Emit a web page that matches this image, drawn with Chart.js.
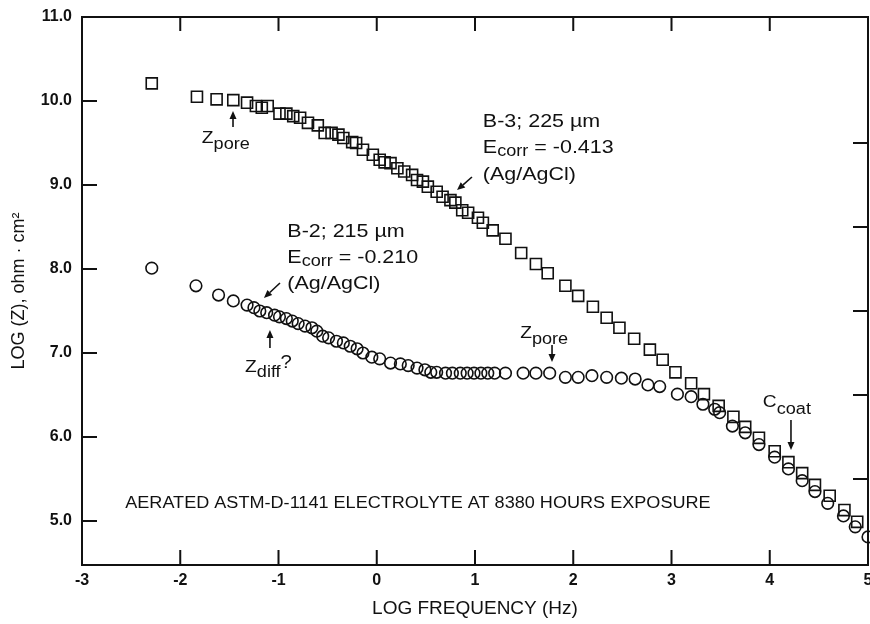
<!DOCTYPE html>
<html>
<head>
<meta charset="utf-8">
<script src="https://cdn.jsdelivr.net/npm/chart.js@4/dist/chart.umd.min.js"></script>
<style>
  html, body { margin: 0; padding: 0; background: #fff; }
  canvas { display: block; }
</style>
</head>
<body>
<canvas id="impedance-chart" width="870" height="624"></canvas>
<script>
// B-3 (225 µm) - squares
const logFreqB3 = [-2.29, -1.83, -1.63, -1.46, -1.32, -1.23, -1.17, -1.11, -0.99, -0.92, -0.85, -0.78, -0.70, -0.60, -0.53, -0.46, -0.39, -0.34, -0.25, -0.21, -0.14, -0.04, 0.03, 0.08, 0.14, 0.21, 0.28, 0.36, 0.41, 0.47, 0.52, 0.61, 0.67, 0.75, 0.80, 0.87, 0.93, 1.03, 1.08, 1.18, 1.31, 1.47, 1.62, 1.74, 1.92, 2.05, 2.20, 2.34, 2.47, 2.62, 2.78, 2.91, 3.04, 3.20, 3.33, 3.48, 3.63, 3.75, 3.89, 4.05, 4.19, 4.33, 4.46, 4.61, 4.76, 4.89];
const logZB3 = [10.21, 10.05, 10.02, 10.01, 9.98, 9.94, 9.92, 9.94, 9.85, 9.85, 9.82, 9.80, 9.74, 9.71, 9.62, 9.62, 9.60, 9.56, 9.51, 9.50, 9.42, 9.36, 9.30, 9.27, 9.26, 9.20, 9.16, 9.12, 9.06, 9.04, 8.98, 8.92, 8.86, 8.82, 8.79, 8.70, 8.67, 8.61, 8.55, 8.46, 8.36, 8.19, 8.06, 7.95, 7.80, 7.68, 7.55, 7.42, 7.30, 7.17, 7.04, 6.92, 6.77, 6.64, 6.51, 6.37, 6.24, 6.12, 5.99, 5.83, 5.70, 5.57, 5.43, 5.30, 5.13, 4.99];

// B-2 (215 µm) - circles
const logFreqB2 = [-2.29, -1.84, -1.61, -1.46, -1.32, -1.25, -1.19, -1.12, -1.04, -0.99, -0.92, -0.86, -0.80, -0.73, -0.66, -0.61, -0.55, -0.49, -0.41, -0.34, -0.27, -0.20, -0.14, -0.05, 0.03, 0.14, 0.24, 0.32, 0.41, 0.49, 0.55, 0.61, 0.70, 0.77, 0.85, 0.92, 0.99, 1.06, 1.13, 1.20, 1.31, 1.49, 1.62, 1.76, 1.92, 2.05, 2.19, 2.34, 2.49, 2.63, 2.76, 2.88, 3.06, 3.20, 3.32, 3.44, 3.49, 3.62, 3.75, 3.89, 4.05, 4.19, 4.33, 4.46, 4.59, 4.75, 4.87, 5.00];
const logZB2 = [8.01, 7.80, 7.69, 7.62, 7.57, 7.54, 7.50, 7.48, 7.45, 7.43, 7.41, 7.38, 7.35, 7.32, 7.30, 7.26, 7.20, 7.18, 7.14, 7.12, 7.08, 7.05, 7.00, 6.95, 6.93, 6.88, 6.87, 6.85, 6.82, 6.80, 6.77, 6.77, 6.76, 6.76, 6.76, 6.76, 6.76, 6.76, 6.76, 6.76, 6.76, 6.76, 6.76, 6.76, 6.71, 6.71, 6.73, 6.71, 6.70, 6.69, 6.62, 6.60, 6.51, 6.48, 6.39, 6.33, 6.29, 6.13, 6.05, 5.91, 5.76, 5.62, 5.48, 5.35, 5.21, 5.06, 4.93, 4.81];

// axis ticks
const xTickValues = [-3, -2, -1, 0, 1, 2, 3, 4, 5];
const yTickValues = [5, 6, 7, 8, 9, 10, 11];
const xInnerTicks = [-2, -1, 0, 1, 2, 3, 4];
const yInnerTicks = [5, 6, 7, 8, 9, 10];
const rightInnerTicks = [5.5, 6.5, 7.5, 8.5, 9.5];

// annotations, in data units: [logFreq, logZ, [[text, fontPx, dy], ...]]
const noteLabels = [
  [-1.78, 9.50, [['Z', 17, 0], ['pore', 16, 6]]],
  [1.08, 9.69, [['B-3; 225 µm', 19, 0]]],
  [1.08, 9.38, [['E', 19, 0], ['corr', 16, 3], [' = -0.413', 19, 0]]],
  [1.08, 9.06, [['(Ag/AgCl)', 19, 0]]],
  [-0.91, 8.38, [['B-2; 215 µm', 19, 0]]],
  [-0.91, 8.07, [['E', 19, 0], ['corr', 16, 3], [' = -0.210', 19, 0]]],
  [-0.91, 7.76, [['(Ag/AgCl)', 19, 0]]],
  [-1.34, 6.77, [['Z', 17, 0], ['diff', 16, 5], ['?', 18, -4]]],
  [1.46, 7.18, [['Z', 17, 0], ['pore', 16, 6]]],
  [3.93, 6.36, [['C', 17, 0], ['coat', 16, 7]]],
  [-2.56, 5.155, [['AERATED ASTM-D-1141 ELECTROLYTE AT 8380 HOURS EXPOSURE', 16, 0]]],
];
// arrows: tail -> head
const noteArrows = [
  [-1.463, 9.69, -1.463, 9.88],
  [0.969, 9.095, 0.817, 8.94],
  [-0.985, 7.833, -1.148, 7.655],
  [-1.087, 7.06, -1.087, 7.274],
  [1.784, 7.095, 1.784, 6.893],
  [4.216, 6.202, 4.216, 5.845],
];

const INK = '#111';
const FONT = '"Liberation Sans", Arial, Helvetica, sans-serif';

// frame + inward tick marks
const frameTicks = {
  id: 'frameTicks',
  afterDraw(chart) {
    const { ctx, chartArea: a, scales: { x, y } } = chart;
    ctx.save();
    ctx.strokeStyle = INK;
    ctx.lineWidth = 2;
    ctx.strokeRect(a.left, a.top, a.right - a.left, a.bottom - a.top);
    ctx.beginPath();
    xInnerTicks.forEach((v) => {
      const px = x.getPixelForValue(v);
      ctx.moveTo(px, a.bottom);
      ctx.lineTo(px, a.bottom - 15);
      ctx.moveTo(px, a.top);
      ctx.lineTo(px, a.top + 14);
    });
    yInnerTicks.forEach((v) => {
      const py = y.getPixelForValue(v);
      ctx.moveTo(a.left, py);
      ctx.lineTo(a.left + 15, py);
    });
    rightInnerTicks.forEach((v) => {
      const py = y.getPixelForValue(v);
      ctx.moveTo(a.right, py);
      ctx.lineTo(a.right - 15, py);
    });
    ctx.stroke();
    ctx.restore();
  },
};

// text notes and arrows
const notes = {
  id: 'notes',
  afterDraw(chart) {
    const { ctx, scales: { x, y } } = chart;
    ctx.save();
    ctx.fillStyle = INK;
    ctx.strokeStyle = INK;
    ctx.textBaseline = 'alphabetic';
    ctx.textAlign = 'left';

    noteLabels.forEach(([fx, fy, parts]) => {
      ctx.save();
      ctx.translate(x.getPixelForValue(fx), y.getPixelForValue(fy));
      ctx.scale(1.13, 1);
      let cx = 0;
      parts.forEach(([t, size, dy]) => {
        ctx.font = `${size}px ${FONT}`;
        ctx.fillText(t, cx, dy);
        cx += ctx.measureText(t).width;
      });
      ctx.restore();
    });

    ctx.lineWidth = 1.6;
    noteArrows.forEach(([x1, y1, x2, y2]) => {
      const ax = x.getPixelForValue(x1), ay = y.getPixelForValue(y1);
      const bx = x.getPixelForValue(x2), by = y.getPixelForValue(y2);
      const ang = Math.atan2(by - ay, bx - ax);
      const len = 8, half = 3.5;
      const baseX = bx - len * Math.cos(ang), baseY = by - len * Math.sin(ang);
      ctx.beginPath();
      ctx.moveTo(ax, ay);
      ctx.lineTo(baseX, baseY);
      ctx.stroke();
      ctx.beginPath();
      ctx.moveTo(bx, by);
      ctx.lineTo(baseX + half * Math.sin(ang), baseY - half * Math.cos(ang));
      ctx.lineTo(baseX - half * Math.sin(ang), baseY + half * Math.cos(ang));
      ctx.closePath();
      ctx.fill();
    });
    ctx.restore();
  },
};

new Chart(document.getElementById('impedance-chart'), {
  type: 'scatter',
  data: {
    datasets: [
      {
        label: 'B-3; 225 µm',
        data: logFreqB3.map((f, i) => ({ x: f, y: logZB3[i] })),
        pointStyle: 'rect',
        pointRadius: 7.8,
        borderColor: INK,
        backgroundColor: 'rgba(0,0,0,0)',
        borderWidth: 1.6,
        clip: false,
      },
      {
        label: 'B-2; 215 µm',
        data: logFreqB2.map((f, i) => ({ x: f, y: logZB2[i] })),
        pointStyle: 'circle',
        pointRadius: 5.8,
        borderColor: INK,
        backgroundColor: 'rgba(0,0,0,0)',
        borderWidth: 1.6,
        clip: false,
      },
    ],
  },
  options: {
    responsive: false,
    animation: false,
    events: [],
    layout: {
      autoPadding: false,
      padding: { top: 17, right: 2, left: 0, bottom: 0 },
    },
    plugins: {
      legend: { display: false },
      tooltip: { enabled: false },
    },
    scales: {
      x: {
        type: 'linear',
        min: -3,
        max: 5,
        afterBuildTicks: (scale) => {
          scale.ticks = xTickValues.map((v) => ({ value: v }));
        },
        afterFit: (scale) => {
          scale.height = 59;
          scale.paddingLeft = 0;
          scale.paddingRight = 0;
        },
        grid: { display: false, drawTicks: false },
        border: { display: false },
        ticks: {
          color: INK,
          padding: 6,
          maxRotation: 0,
          font: { family: FONT, size: 16, weight: 'bold' },
          callback: (v) => String(v),
        },
        title: {
          display: true,
          text: 'LOG FREQUENCY (Hz)',
          color: INK,
          font: { family: FONT, size: 19 },
          padding: { top: 0, bottom: 4 },
        },
      },
      y: {
        type: 'linear',
        min: 4.476,
        max: 11,
        afterBuildTicks: (scale) => {
          scale.ticks = yTickValues.map((v) => ({ value: v }));
        },
        afterFit: (scale) => {
          scale.width = 82;
          scale.paddingTop = 0;
          scale.paddingBottom = 0;
        },
        grid: { display: false, drawTicks: false },
        border: { display: false },
        ticks: {
          color: INK,
          padding: 10,
          font: { family: FONT, size: 16, weight: 'bold' },
          callback: (v) => Number(v).toFixed(1),
        },
        title: {
          display: true,
          text: 'LOG (Z), ohm · cm²',
          color: INK,
          font: { family: FONT, size: 18 },
          padding: { top: 8, bottom: 0 },
        },
      },
    },
  },
  plugins: [frameTicks, notes],
});
</script>
</body>
</html>
